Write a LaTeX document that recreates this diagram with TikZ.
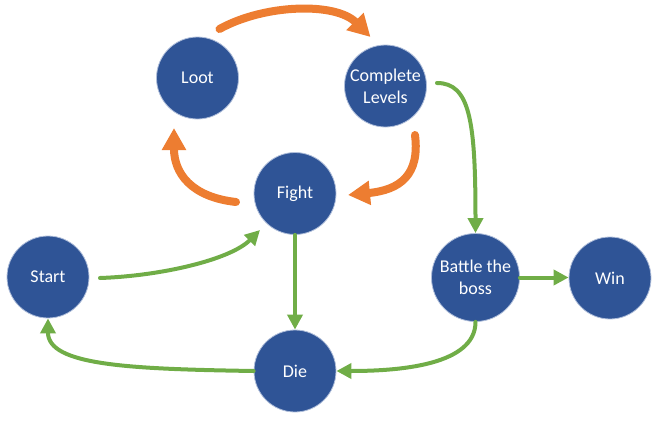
\documentclass[tikz,border=0pt]{standalone}
\usepackage{fontspec}
\setmainfont{Carlito}
\usetikzlibrary{arrows.meta,calc}
\definecolor{nodeblue}{RGB}{47,84,150}
\definecolor{halo}{RGB}{175,190,218}
\definecolor{arrorange}{RGB}{237,125,49}
\definecolor{arrgreen}{RGB}{112,173,71}
\tikzset{
  state/.style={circle, fill=nodeblue, draw=halo, line width=0.8pt, minimum size=82pt,
    inner sep=0pt, text=white, align=center, font=\fontsize{18}{22}\selectfont},
  orangearrow/.style={draw=arrorange, line width=8pt, line cap=round,
    -{Triangle[length=22pt,width=23pt]}},
  greenarrow/.style={draw=arrgreen, line width=4pt, line cap=round,
    -{Triangle[length=15pt,width=15pt]}}
}
\begin{document}
\begin{tikzpicture}[x=1pt,y=-1pt]
\useasboundingbox (0,0) rectangle (659,421);
\node[state] (loot) at (197.5,78) {Loot};
\node[state] (cl) at (385.5,86) {Complete\\Levels};
\node[state] (fight) at (295,193.5) {Fight};
\node[state] (start) at (48,277) {Start};
\node[state, minimum size=88pt] (boss) at (475.5,277.5) {Battle the\\boss};
\node[state] (win) at (610,278) {Win};
\node[state] (die) at (295,371) {Die};

% orange cycle
\draw[orangearrow] ($(loot)+(22,-49)$) .. controls +(45,-25) and +(-35,-35) .. ($(cl)+(-15,-49)$);
\draw[orangearrow] ($(cl)+(29.5,49)$) .. controls +(5,40) and +(52,-5) .. ($(fight)+(53,1.5)$);
\draw[orangearrow] ($(fight)+(-59,8.5)$) .. controls +(-45,-5) and +(0,45) .. ($(loot)+(-23.5,50)$);

% green paths
\draw[greenarrow] ($(start)+(52,1)$) .. controls +(60,-2) and +(-30,30) .. ($(fight)+(-35,36.5)$);
\draw[greenarrow] ($(cl)+(51.5,-3)$) .. controls +(33,0) and +(0,-112) .. (boss.north);
\draw[greenarrow] (fight.south) -- (die.north);
\draw[greenarrow] (boss.east) -- (boss.east -| win.west);
\draw[greenarrow] (boss.south) .. controls +(0,43) and +(64,0) .. (die.east);
\draw[greenarrow] (die.west) .. controls +(-124,-2) and +(0,47) .. (start.south);
\end{tikzpicture}
\end{document}
